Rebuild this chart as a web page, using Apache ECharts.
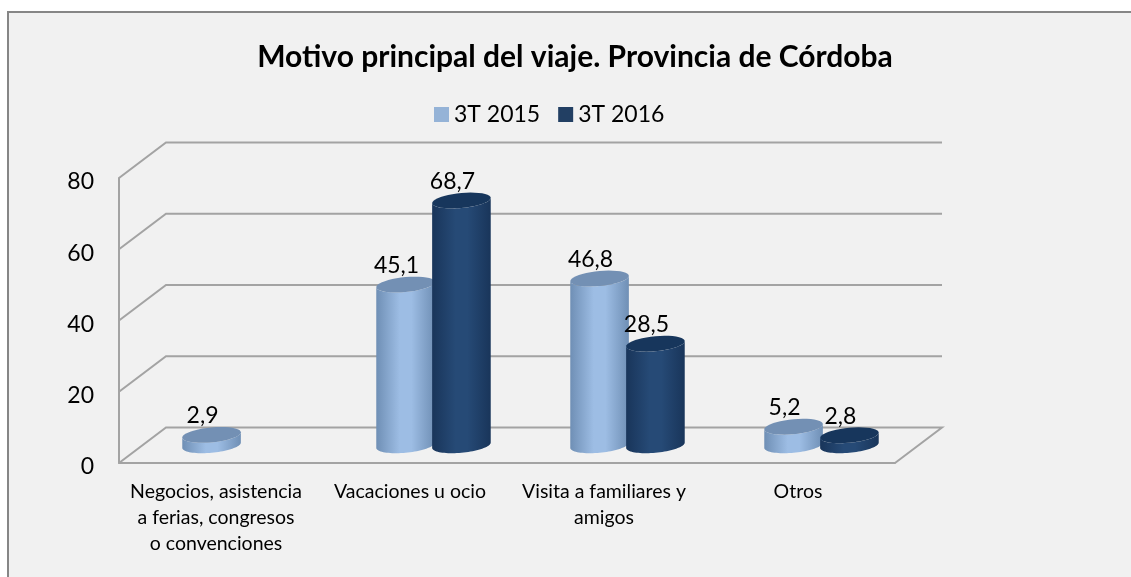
<!DOCTYPE html>
<html>
<head>
<meta charset="utf-8">
<style>
html, body { margin: 0; padding: 0; background: #fff; }
#main { width: 1131px; height: 577px; }
</style>
<script src="https://cdn.jsdelivr.net/npm/echarts@6/dist/echarts.min.js"></script>
</head>
<body>
<div id="main"></div>
<script>
const categories = [
  'Negocios, asistencia\na ferias, congresos\no convenciones',
  'Vacaciones u ocio',
  'Visita a familiares y\namigos',
  'Otros'
];
const values2015 = [2.9, 45.1, 46.8, 5.2];
const values2016 = [null, 68.7, 28.5, 2.8];
const yTicks = [0, 20, 40, 60, 80];

const FONT = 'Lato, "Open Sans", sans-serif';
const DEPTH_X = 47;
const DEPTH_Y = -35.5;
const LINE = '#a3a3a3';

// puntos de una elipse algo inclinada (el cilindro se ve en perspectiva)
function arc (cx, cy, rx, ry, from, to) {
  const pts = [];
  for (let i = 0; i <= 40; i++) {
    const t = from + (to - from) * i / 40;
    const c = Math.cos(t);
    pts.push([cx + rx * c, cy + ry * Math.sin(t) - rx * c * 0.09]);
  }
  return pts;
}

function cylinder (side, colors) {
  return function (params, api) {
    const v = api.value(1);
    if (v == null || isNaN(v)) return null;
    const band = api.size([1, 0])[0];
    const rx = band * 0.151;
    const ry = 7.5;
    const base = api.coord([api.value(0), 0]);
    const top = api.coord([api.value(0), v]);
    const cx = base[0] + DEPTH_X / 2 + side * band * 0.144;
    const y0 = base[1] + DEPTH_Y / 2;
    const y1 = top[1] + DEPTH_Y / 2;
    const body = arc(cx, y0, rx, ry, Math.PI, 0).concat(arc(cx, y1, rx, ry, 0, Math.PI));
    return {
      type: 'group',
      children: [
        {
          type: 'polygon',
          shape: { points: body },
          style: {
            fill: {
              type: 'linear', x: 0, y: 0, x2: 1, y2: 0,
              colorStops: [
                { offset: 0, color: colors[0] },
                { offset: 0.4, color: colors[1] },
                { offset: 0.6, color: colors[1] },
                { offset: 1, color: colors[0] }
              ]
            }
          }
        },
        {
          type: 'polygon',
          shape: { points: arc(cx, y1, rx, ry, 0, Math.PI * 2) },
          style: { fill: colors[2] }
        },
        {
          type: 'text',
          z2: 10,
          style: {
            x: cx - 9,
            y: y1 - 19,
            text: String(v).replace('.', ','),
            font: '23px ' + FONT,
            fill: '#000',
            align: 'center',
            verticalAlign: 'middle'
          }
        }
      ]
    };
  };
}

// paredes del grafico: linea lateral y linea del fondo para cada marca
function wallItem (params, api) {
  const v = api.value(0);
  const a = api.coord([0, v]);
  const left = params.coordSys.x;
  const right = left + params.coordSys.width;
  const pts = [[left, a[1]], [left + DEPTH_X, a[1] + DEPTH_Y], [right + DEPTH_X, a[1] + DEPTH_Y]];
  if (v === 0) pts.push([right, a[1]]);
  return {
    type: 'polyline',
    shape: { points: pts },
    style: { stroke: LINE, lineWidth: 2, fill: null }
  };
}

const chart = echarts.init(document.getElementById('main'));
chart.setOption({
  animation: false,
  backgroundColor: '#fff',
  graphic: [{
    type: 'rect',
    z: -10,
    shape: { x: 8, y: 12, width: 1140, height: 590 },
    style: { fill: '#f1f1f1', stroke: '#868686', lineWidth: 2 }
  }],
  title: {
    text: 'Motivo principal del viaje. Provincia de Córdoba',
    left: 570,
    top: 37,
    textAlign: 'center',
    textStyle: { fontFamily: FONT, fontSize: 30, fontWeight: 'bold', color: '#000' }
  },
  legend: {
    top: 98,
    left: 429,
    icon: 'rect',
    itemWidth: 15,
    itemHeight: 15,
    itemGap: 18,
    textStyle: { fontFamily: FONT, fontSize: 23, color: '#000' },
    data: ['3T 2015', '3T 2016']
  },
  grid: { left: 119, right: 236, top: 178, bottom: 114 },
  xAxis: {
    type: 'category',
    data: categories,
    axisLine: { show: true, lineStyle: { color: LINE, width: 2 } },
    axisTick: { show: false },
    axisLabel: {
      interval: 0,
      margin: 16,
      fontFamily: FONT,
      fontSize: 19.5,
      lineHeight: 26,
      color: '#000'
    }
  },
  yAxis: {
    type: 'value',
    min: 0,
    max: 80,
    interval: 20,
    axisLine: { show: true, lineStyle: { color: LINE, width: 2 } },
    axisTick: { show: false },
    splitLine: { show: false },
    axisLabel: {
      margin: 25,
      formatter: '{a|{value}}',
      rich: { a: { padding: [8, 0, 0, 0], fontFamily: FONT, fontSize: 23, color: '#000' } }
    }
  },
  series: [
    {
      type: 'custom',
      name: 'paredes',
      silent: true,
      renderItem: wallItem,
      encode: { y: 0 },
      data: yTicks.map(t => [t]),
      z: 1
    },
    {
      type: 'custom',
      name: '3T 2015',
      itemStyle: { color: '#95b3d7' },
      renderItem: cylinder(-1, ['#6f8fb5', '#9dbde4', '#7390b4']),
      encode: { x: 0, y: 1 },
      data: values2015.map((v, i) => [i, v]),
      z: 2
    },
    {
      type: 'custom',
      name: '3T 2016',
      itemStyle: { color: '#223f63' },
      renderItem: cylinder(1, ['#19355a', '#264a76', '#17365c']),
      encode: { x: 0, y: 1 },
      data: values2016.map((v, i) => [i, v]),
      z: 3
    }
  ]
});
</script>
</body>
</html>
